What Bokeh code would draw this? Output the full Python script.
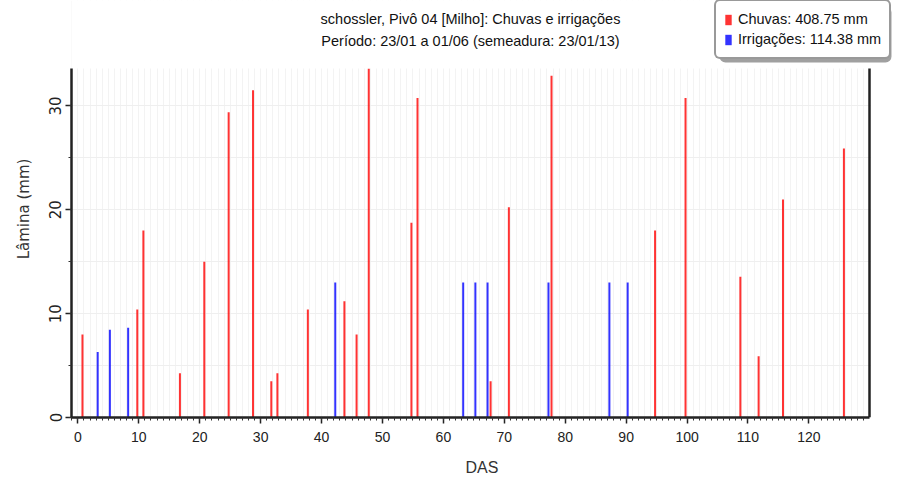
from bokeh.plotting import figure
from bokeh.models import (Legend, LegendItem, Range1d, Label,
                          SingleIntervalTicker, ColumnDataSource,
                          BoxAnnotation)
from bokeh.embed import file_html
from bokeh.resources import INLINE

# ---- data ----
chuva_das = [0.75, 9.75, 10.75, 16.75, 20.75, 24.75, 28.75, 31.75, 32.75, 37.75,
             43.75, 45.75, 47.75, 54.75, 55.75, 67.75, 70.75, 77.75, 94.75, 99.75,
             108.75, 111.75, 115.75, 125.75]
chuva_mm = [8.0, 10.4, 18.0, 4.25, 15.0, 29.4, 31.5, 3.5, 4.25, 10.4,
            11.2, 8.0, 33.6, 18.75, 30.75, 3.5, 20.25, 32.9, 18.0, 30.75,
            13.55, 5.9, 21.0, 25.9]
irrig_das = [3.25, 5.25, 8.25, 42.25, 63.25, 65.25, 67.25, 77.25, 87.25, 90.25]
irrig_mm = [6.3, 8.45, 8.63, 13.0, 13.0, 13.0, 13.0, 13.0, 13.0, 13.0]

title_line1 = "schossler, Pivô 04 [Milho]: Chuvas e irrigações"
title_line2 = "Período: 23/01 a 01/06 (semeadura: 23/01/13)"
legend_chuva = "Chuvas: 408.75 mm"
legend_irrig = "Irrigações: 114.38 mm"
x_label = "DAS"
y_label = "Lâmina (mm)"

FONT = "Liberation Sans"

# layout constants (pixels)
W, H = 892, 482
FRAME_L, PLOT_R, FRAME_B = 71, 869, 417
PLOT_TOP_PX = 68                      # where the visible plot area starts
X0, X1 = -1.05, 129.95                # visible x extent
Y_MAX = 33.6                          # top of the drawn plot area
px_per_y = (FRAME_B - PLOT_TOP_PX) / Y_MAX
px_per_x = (PLOT_R - FRAME_L) / (X1 - X0)
Y_TOP = FRAME_B / px_per_y            # frame extends up to canvas top
X_END = X0 + (W - FRAME_L) / px_per_x  # frame extends to canvas right


def dx(px):   # canvas x pixel -> data x
    return X0 + (px - FRAME_L) / px_per_x


def dy(py):   # canvas y pixel -> data y
    return (FRAME_B - py) / px_per_y


p = figure(width=W, height=H, output_backend="svg", toolbar_location=None,
           x_range=Range1d(X0, X_END), y_range=Range1d(0, Y_TOP),
           min_border_left=FRAME_L, min_border_right=0,
           min_border_top=0, min_border_bottom=H - FRAME_B)
p.outline_line_color = None

src_c = ColumnDataSource(dict(x=chuva_das, top=chuva_mm))
src_i = ColumnDataSource(dict(x=irrig_das, top=irrig_mm))
rc = p.vbar(x="x", top="top", bottom=0, width=0.33, source=src_c,
            fill_color="#ff0000", fill_alpha=0.8, line_color=None)
ri = p.vbar(x="x", top="top", bottom=0, width=0.33, source=src_i,
            fill_color="#0000ff", fill_alpha=0.8, line_color=None)

# axes
xa = p.xaxis[0]
xa.ticker = SingleIntervalTicker(interval=10, num_minor_ticks=10)
xa.axis_label = x_label
xa.bounds = (X0, X1)
ya = p.yaxis[0]
ya.ticker = SingleIntervalTicker(interval=10, num_minor_ticks=2)
ya.axis_label = y_label
ya.major_label_orientation = "vertical"
ya.bounds = (0, Y_MAX)
for ax in (xa, ya):
    ax.axis_line_width = 2.5
    ax.axis_line_color = "#222222"
    ax.major_tick_line_color = "#222222"
    ax.minor_tick_line_color = "#333333"
    ax.major_tick_line_width = 1.5
    ax.major_tick_out = 6
    ax.major_tick_in = 0
    ax.minor_tick_out = 3
    ax.minor_tick_in = 0
    ax.axis_label_text_font_style = "normal"
    ax.major_label_text_color = "#222222"
    ax.axis_label_text_color = "#333333"
xa.major_label_text_font = FONT
xa.major_label_text_font_size = "14px"
xa.major_label_standoff = 8
xa.axis_label_text_font = FONT
xa.axis_label_text_font_size = "16px"
xa.axis_label_standoff = 14
ya.major_label_text_font = "DejaVu Sans"
ya.major_label_text_font_size = "15px"
ya.major_label_standoff = 4
ya.axis_label_text_font = "DejaVu Sans"
ya.axis_label_text_font_size = "15px"
ya.axis_label_standoff = 14

# grids
p.xgrid.ticker = SingleIntervalTicker(interval=1)
p.xgrid.grid_line_color = "#f3f3f3"
p.xgrid.grid_line_width = 1
p.xgrid.bounds = (X0, X1)
p.ygrid.ticker = SingleIntervalTicker(interval=5)
p.ygrid.grid_line_color = "#efefef"
p.ygrid.grid_line_width = 1
p.ygrid.bounds = (0, Y_MAX)

# white areas outside the drawn plot area (title zone and right margin)
bw = 2.5 / px_per_x
p.add_layout(BoxAnnotation(bottom=Y_MAX, fill_color="white", fill_alpha=1.0,
                           line_color=None, level="glyph"))
p.add_layout(BoxAnnotation(left=X1 + bw / 2, fill_color="white",
                           fill_alpha=1.0, line_color=None, level="glyph"))
# right-hand border of the plot area
p.add_layout(BoxAnnotation(left=X1 - bw / 2, right=X1 + bw / 2, bottom=0,
                           top=Y_MAX, fill_color="#222222", fill_alpha=1.0,
                           line_color=None, level="glyph"))

# titles (two lines, centred over the plot)
xc = (X0 + X1) / 2
for txt, ypx in ((title_line1, 18), (title_line2, 40)):
    p.add_layout(Label(x=xc, y=dy(ypx), text=txt,
                       text_align="center", text_baseline="middle",
                       text_font=FONT, text_font_size="14.5px",
                       text_color="#111111"))

# legend shadow
shadow = BoxAnnotation(left=dx(719), right=dx(891), top=dy(6), bottom=dy(62),
                       fill_color="#777777", fill_alpha=0.7, line_color=None)
if "border_radius" in BoxAnnotation.properties():
    shadow.border_radius = 6
p.add_layout(shadow)

# legend
LEG_L, LEG_B = 714, 59
legend = Legend(items=[LegendItem(label=legend_chuva, renderers=[rc]),
                       LegendItem(label=legend_irrig, renderers=[ri])],
                location=(LEG_L - FRAME_L, FRAME_B - LEG_B),
                orientation="vertical",
                label_text_font=FONT, label_text_font_size="14.5px",
                label_text_color="#111111",
                glyph_width=8, glyph_height=13, label_height=20,
                label_standoff=6, spacing=0, padding=8, margin=0,
                border_line_color="#333333", border_line_width=2,
                background_fill_color="white", background_fill_alpha=1.0)
if "border_radius" in Legend.properties():
    legend.border_radius = 6
p.add_layout(legend, "center")

open("out.html", "w").write(file_html(p, INLINE))
